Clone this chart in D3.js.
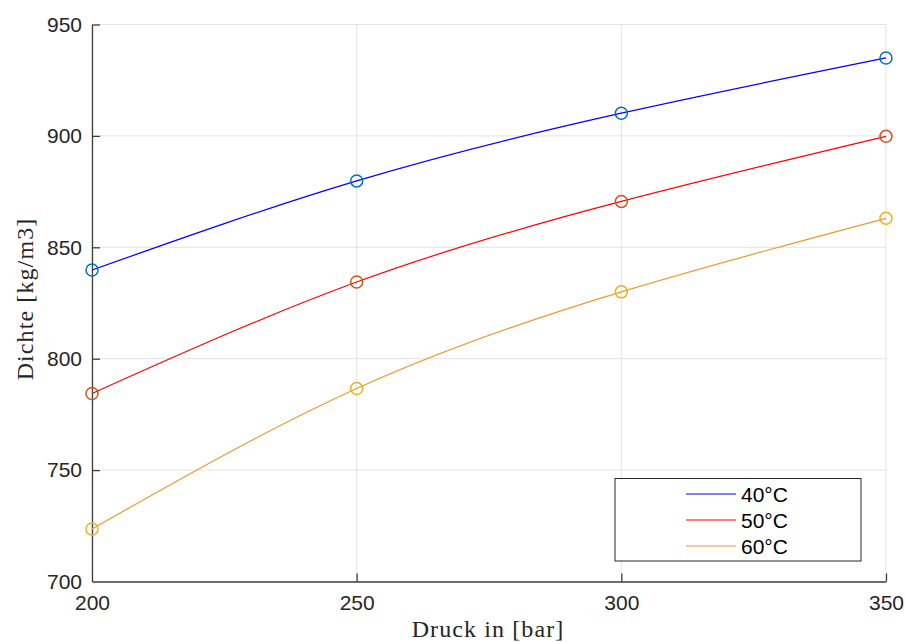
<!DOCTYPE html>
<html><head><meta charset="utf-8">
<script src="https://cdn.jsdelivr.net/npm/d3@7"></script>
<style>body{margin:0;background:#fff}</style>
</head><body>
<svg id="c" width="906" height="642"></svg>
<script>
const pressures = [200, 250, 300, 350];
const rho40 = [839.8, 879.8, 910.2, 935.0];
const rho50 = [784.4, 834.4, 870.6, 899.8];
const rho60 = [723.6, 786.6, 830.0, 863.0];
const seriesNames = ["40°C", "50°C", "60°C"];
const xTicks = [200, 250, 300, 350];
const yTicks = [700, 750, 800, 850, 900, 950];

const lineColors = ["#0000FF", "#FF0000", "#EC9A2E"];
const markerColors = ["#0072BD", "#D95319", "#EDB120"];
const seriesVals = [rho40, rho50, rho60];

const svg = d3.select("#c");
const L = 92, R = 886, T = 24.5, B = 581.5;
const x = d3.scaleLinear().domain([200, 350]).range([L, R]);
const y = d3.scaleLinear().domain([700, 950]).range([B, T]);

// grid
const g = svg.append("g");
g.selectAll(".gx").data(xTicks).enter().append("line")
  .attr("x1", d => x(d)).attr("x2", d => x(d)).attr("y1", T).attr("y2", B)
  .attr("stroke", "#e3e3e3").attr("stroke-width", 1);
g.selectAll(".gy").data(yTicks).enter().append("line")
  .attr("y1", d => y(d)).attr("y2", d => y(d)).attr("x1", L).attr("x2", R)
  .attr("stroke", "#e3e3e3").attr("stroke-width", 1);

// axes
const xAxis = d3.axisBottom(x).tickValues(xTicks).tickSizeInner(-8).tickSizeOuter(0).tickPadding(14).tickFormat(d3.format("d"));
const yAxis = d3.axisLeft(y).tickValues(yTicks).tickSizeInner(-8).tickSizeOuter(0).tickPadding(10).tickFormat(d3.format("d"));
const gx = svg.append("g").attr("transform", `translate(0,${B})`).call(xAxis);
const gy = svg.append("g").attr("transform", `translate(${L},0)`).call(yAxis);
[gx, gy].forEach(a => {
  a.select(".domain").attr("stroke", "#404040").attr("stroke-width", 1.3);
  a.selectAll(".tick line").attr("stroke", "#404040").attr("stroke-width", 1.3);
  a.selectAll(".tick text").attr("font-family", "Liberation Sans, Arial, sans-serif")
    .attr("font-size", 21).attr("fill", "#262626");
});
gx.selectAll(".tick text").attr("dy", "0.71em");
gx.selectAll(".tick").filter(d => d === 200).select("line").remove();
gy.selectAll(".tick").filter(d => d === 700).select("line").remove();

// lines
const line = d3.line().x((d, i) => x(pressures[i])).y(d => y(d)).curve(d3.curveNatural);
seriesVals.forEach((vals, k) => {
  svg.append("path").datum(vals).attr("d", line)
    .attr("fill", "none").attr("stroke", lineColors[k]).attr("stroke-width", 1.2);
});
seriesVals.forEach((vals, k) => {
  svg.selectAll(null).data(vals).enter().append("circle")
    .attr("cx", (d, i) => x(pressures[i])).attr("cy", d => y(d)).attr("r", 6)
    .attr("fill", "none").attr("stroke", markerColors[k]).attr("stroke-width", 1.5);
});

// legend
const lg = svg.append("g");
lg.append("rect").attr("x", 615).attr("y", 478.5).attr("width", 246).attr("height", 82.5)
  .attr("fill", "#fff").attr("stroke", "#262626").attr("stroke-width", 1);
seriesNames.forEach((n, k) => {
  const yy = 494 + k * 26;
  lg.append("line").attr("x1", 686).attr("x2", 736).attr("y1", yy).attr("y2", yy)
    .attr("stroke", lineColors[k]).attr("stroke-width", 1.2);
  lg.append("text").attr("x", 741).attr("y", yy).attr("dy", "0.36em")
    .attr("font-family", "Liberation Sans, Arial, sans-serif").attr("font-size", 21)
    .attr("fill", "#000").text(n);
});

// axis labels
svg.append("text").attr("x", 488).attr("y", 637).attr("text-anchor", "middle")
  .attr("font-family", "Liberation Serif, Times New Roman, serif").attr("font-size", 24)
  .attr("letter-spacing", 1.1)
  .attr("fill", "#262626").text("Druck in [bar]");
svg.append("text").attr("transform", `translate(33,${299}) rotate(-90)`)
  .attr("text-anchor", "middle")
  .attr("font-family", "Liberation Serif, Times New Roman, serif").attr("font-size", 24)
  .attr("letter-spacing", 1.1)
  .attr("fill", "#262626").text("Dichte [kg/m3]");
</script>
</body></html>
